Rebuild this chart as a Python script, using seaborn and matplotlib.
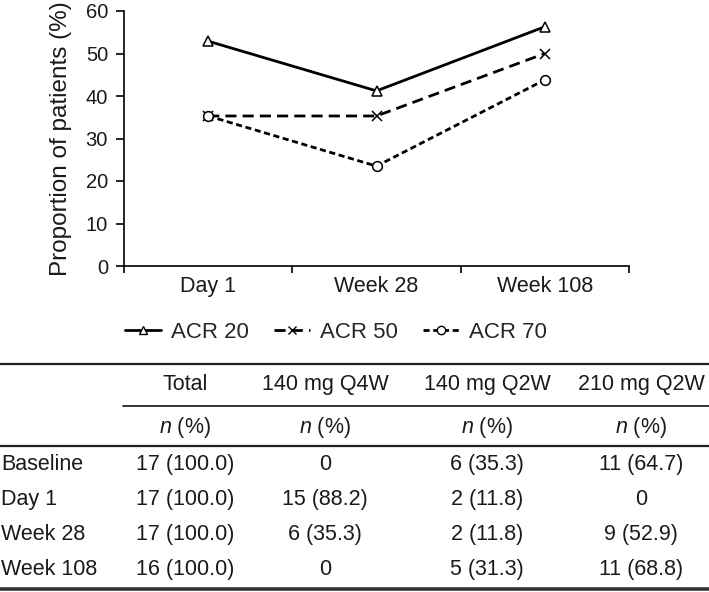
import numpy as np
import pandas as pd
import seaborn as sns
import matplotlib.pyplot as plt
from matplotlib.lines import Line2D
from matplotlib.ticker import FixedLocator

# chart data
visits = ['Day 1', 'Week 28', 'Week 108']
acr20 = [52.9, 41.2, 56.3]
acr50 = [35.3, 35.3, 50.0]
acr70 = [35.3, 23.5, 43.8]
series_names = ['ACR 20', 'ACR 50', 'ACR 70']

# table data
col_headers = ['Total', '140 mg Q4W', '140 mg Q2W', '210 mg Q2W']
row_labels = ['Baseline', 'Day 1', 'Week 28', 'Week 108']
total_col = ['17 (100.0)', '17 (100.0)', '17 (100.0)', '16 (100.0)']
q4w140_col = ['0', '15 (88.2)', '6 (35.3)', '0']
q2w140_col = ['6 (35.3)', '2 (11.8)', '2 (11.8)', '5 (31.3)']
q2w210_col = ['11 (64.7)', '0', '9 (52.9)', '11 (68.8)']

sns.set_style('white')
plt.rcParams['font.family'] = ['Liberation Sans', 'DejaVu Sans']
plt.rcParams['mathtext.fontset'] = 'custom'
plt.rcParams['mathtext.rm'] = 'Liberation Sans'
plt.rcParams['mathtext.it'] = 'Liberation Sans:italic'

fig = plt.figure(figsize=(7.09, 5.92), dpi=100)
ax = fig.add_axes([124 / 709, 1 - 266 / 592, 505 / 709, 255 / 592])

styles = {'ACR 20': '-', 'ACR 50': (0, (4, 2.2)), 'ACR 70': (0, (2.2, 1.3))}
markers = {'ACR 20': '^', 'ACR 50': 'x', 'ACR 70': 'o'}
for name, vals in zip(series_names, [acr20, acr50, acr70]):
    d = pd.DataFrame({'visit': visits, 'value': vals})
    sns.lineplot(data=d, x='visit', y='value', color='black', linewidth=2,
                 linestyle=styles[name], marker=markers[name], markersize=7,
                 markerfacecolor='white', markeredgecolor='black',
                 markeredgewidth=1.1, sort=False, ax=ax)

ax.set_xlim(-0.5, 2.5)
ax.set_ylim(0, 60)
ax.set_yticks(range(0, 61, 10))
ax.set_xticks(range(len(visits)))
ax.set_xticklabels(visits)
ax.xaxis.set_minor_locator(FixedLocator([-0.5, 0.5, 1.5, 2.5]))
ax.tick_params(axis='x', which='major', length=0, labelsize=15.5, pad=7, labelcolor='#1a1a1a')
ax.tick_params(axis='x', which='minor', length=5, width=1.2, direction='out', color='black', bottom=True)
ax.tick_params(axis='y', length=5.5, width=1.2, direction='out', labelsize=14.5, pad=6,
               labelcolor='#1a1a1a', color='black', left=True)
ax.set_xlabel('')
ax.set_ylabel('Proportion of patients (%)', fontsize=17.5, color='#1a1a1a', labelpad=10)
for side in ['top', 'right']:
    ax.spines[side].set_visible(False)
for side in ['left', 'bottom']:
    ax.spines[side].set_linewidth(1.2)
    ax.spines[side].set_color('black')

handles = []
for s in series_names:
    handles.append(Line2D([], [], color='black', linewidth=2, linestyle=styles[s],
                          marker=markers[s], markersize=6, markerfacecolor='white',
                          markeredgecolor='black', markeredgewidth=1.0))
fig.legend(handles, series_names, loc='center', bbox_to_anchor=(0.474, 1 - 332 / 592),
           ncol=3, frameon=False, fontsize=16, handlelength=1.6, handletextpad=0.45,
           columnspacing=1.15)

# table drawn in pixel-like coordinates
tx = fig.add_axes([0, 0, 1, 1 - 362 / 592])
tx.set_xlim(0, 709)
tx.set_ylim(592, 362)
tx.axis('off')

tx.axhline(364.5, color='#222222', linewidth=1.6)
tx.plot([123, 709], [406, 406], color='#222222', linewidth=1.3)
tx.axhline(446.5, color='#222222', linewidth=1.6)
tx.axhline(589.5, color='#333333', linewidth=2.6)

col_x = [185, 325, 487, 641]
fs = 15.5
for x, h in zip(col_x, col_headers):
    tx.text(x, 385, h, ha='center', va='center', fontsize=fs, color='#1a1a1a')
    tx.text(x, 428, r'$n$ (%)', ha='center', va='center', fontsize=fs, color='#1a1a1a')

row_y = [465, 500, 535, 570]
cols = [total_col, q4w140_col, q2w140_col, q2w210_col]
for i, (y, lab) in enumerate(zip(row_y, row_labels)):
    tx.text(1, y, lab, ha='left', va='center', fontsize=fs, color='#1a1a1a')
    for x, col in zip(col_x, cols):
        tx.text(x, y, col[i], ha='center', va='center', fontsize=fs, color='#1a1a1a')

fig.savefig('out.png', dpi=100)
